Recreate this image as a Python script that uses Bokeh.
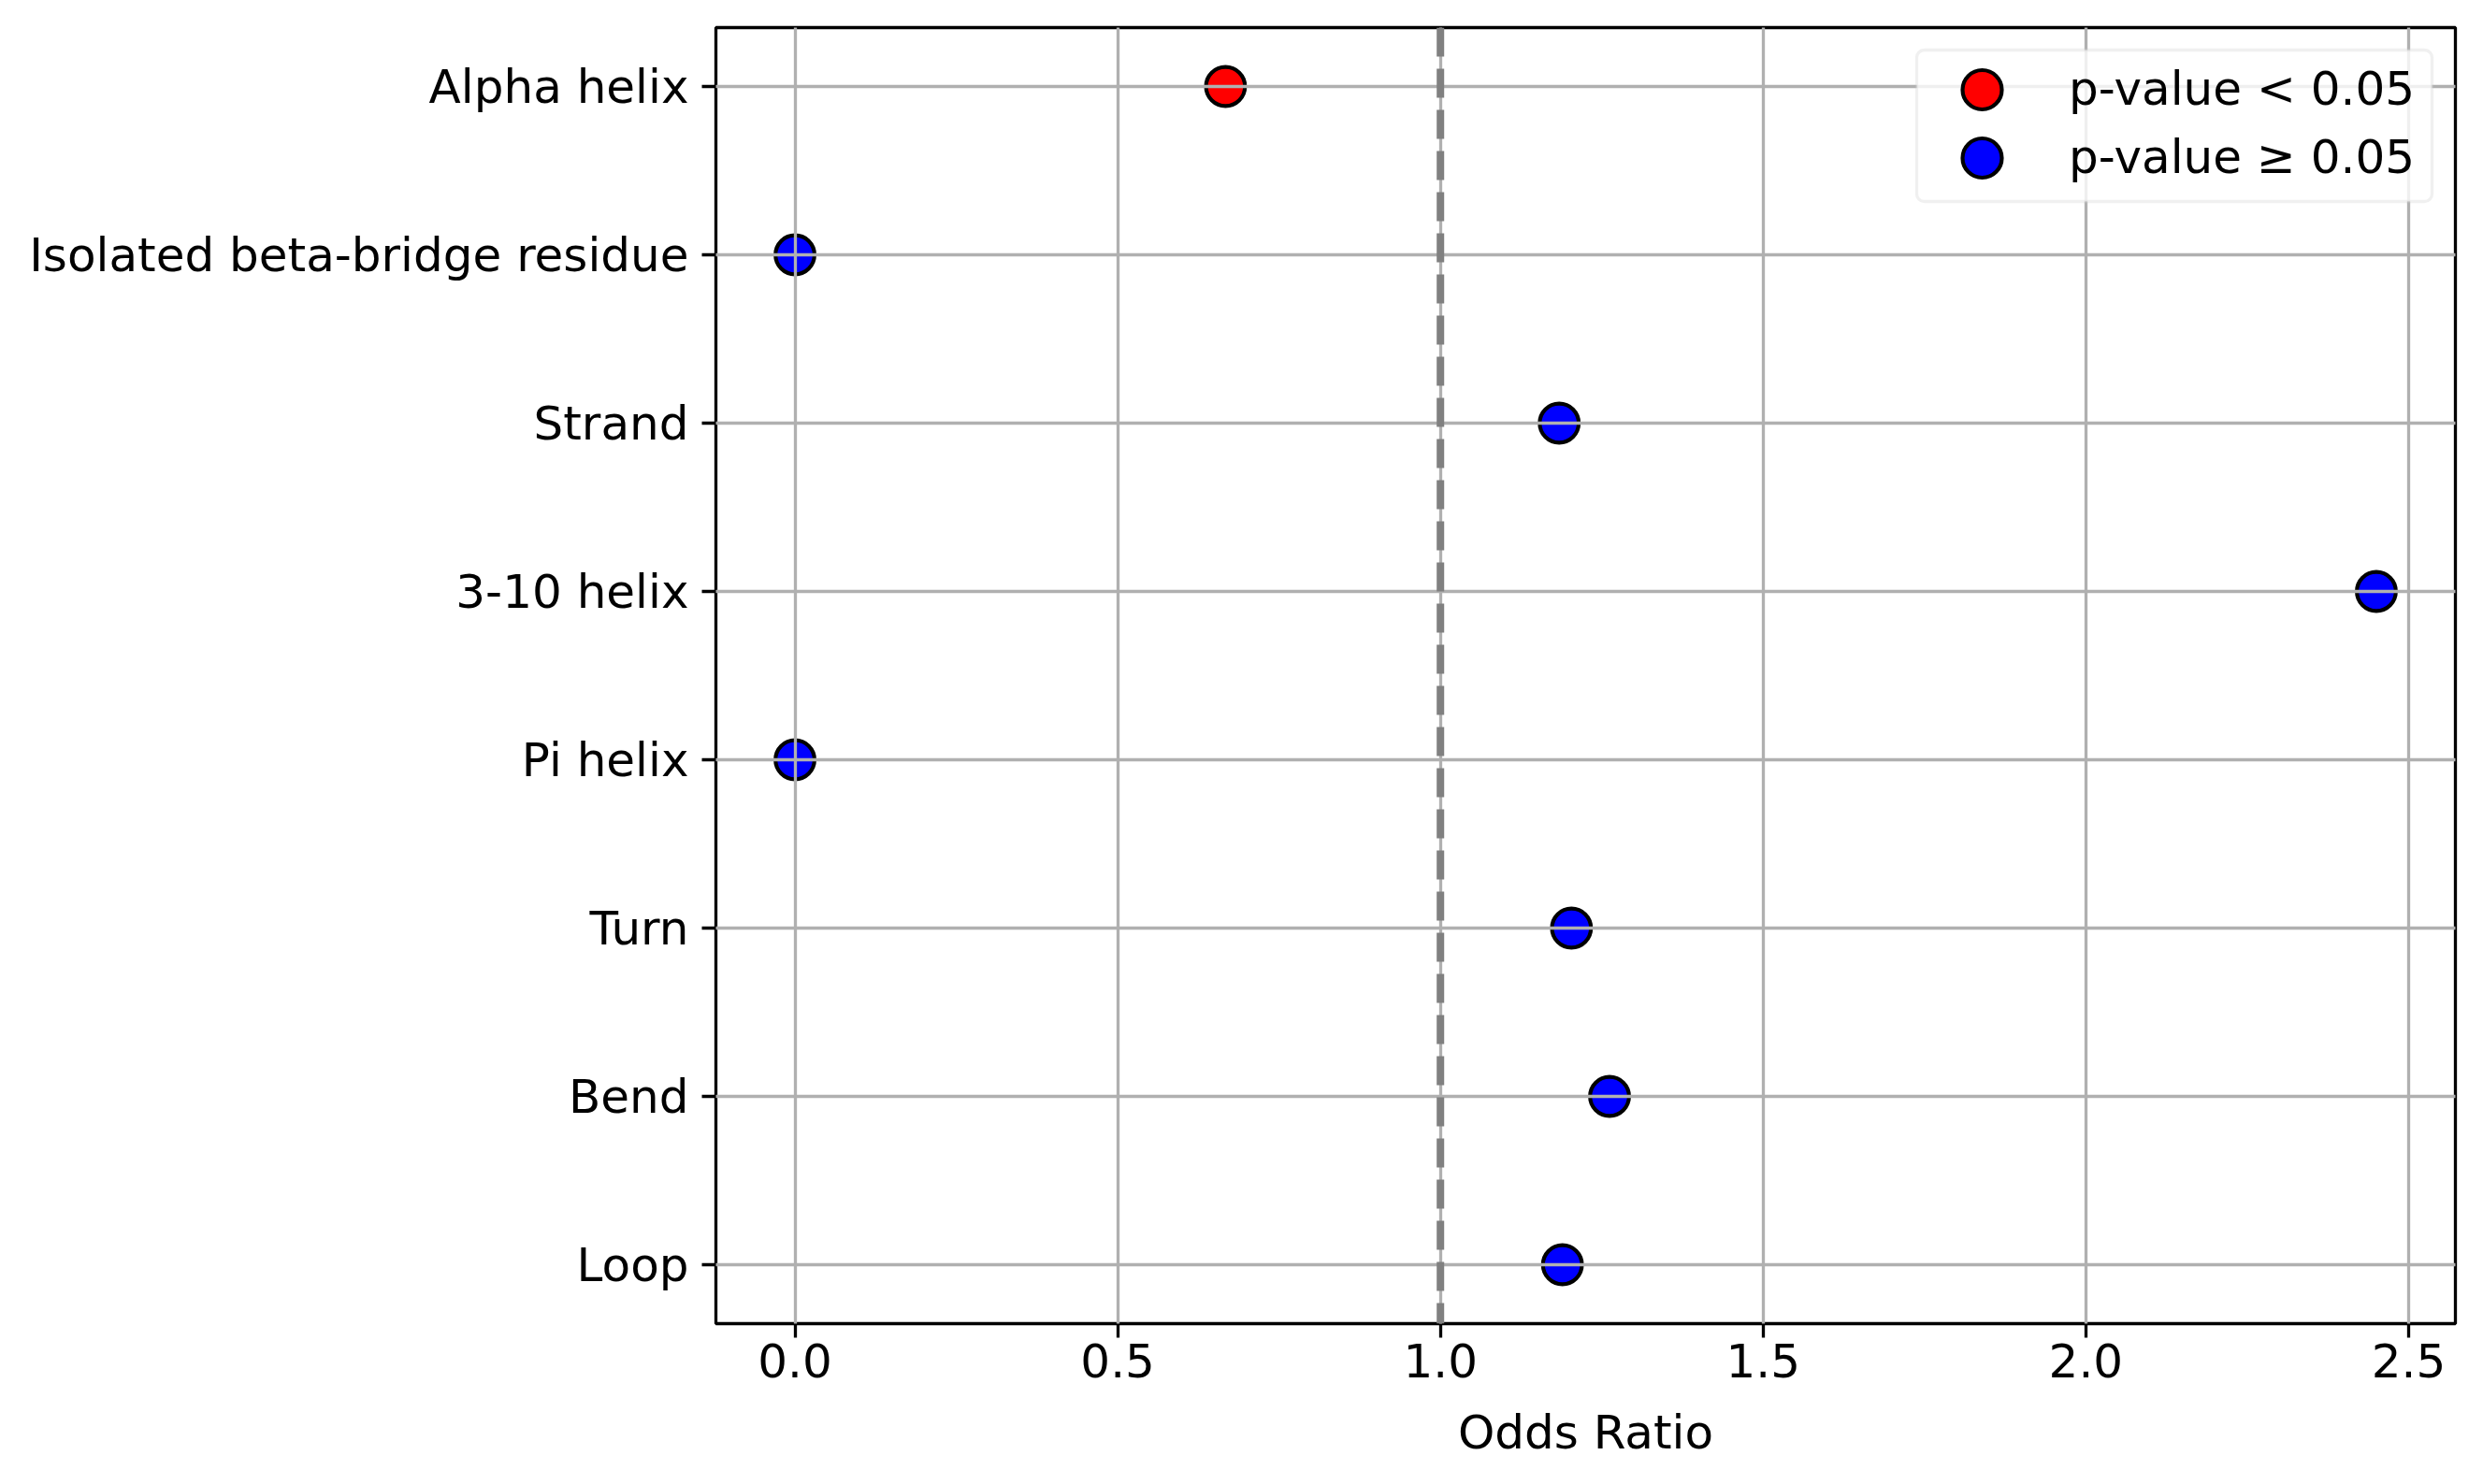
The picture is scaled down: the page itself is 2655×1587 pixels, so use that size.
from bokeh.plotting import figure
from bokeh.models import (ColumnDataSource, CDSView, BooleanFilter, Range1d, FactorRange,
                          Span, Legend, LegendItem, SingleIntervalTicker, PrintfTickFormatter,
                          BoxAnnotation)
from bokeh.embed import file_html
from bokeh.resources import INLINE

# ---- data ----
categories = ["Alpha helix", "Isolated beta-bridge residue", "Strand", "3-10 helix",
              "Pi helix", "Turn", "Bend", "Loop"]
odds_ratio = [0.667, 0.0, 1.184, 2.45, 0.0, 1.203, 1.262, 1.189]
significant = [True, False, False, False, False, False, False, False]
legend_labels = ["p-value < 0.05", "p-value \u2265 0.05"]
x_label = "Odds Ratio"
reference_line = 1.0

FONT = "DejaVu Sans"
W, H = 2639, 1571

source = ColumnDataSource(dict(cat=categories, odds=odds_ratio))

p = figure(width=W, height=H, output_backend="svg", toolbar_location=None,
           x_range=Range1d(-0.1225, 2.5725),
           y_range=FactorRange(factors=categories[::-1], range_padding=-0.0375,
                               range_padding_units="percent"),
           min_border_left=765, min_border_right=14, min_border_top=29, min_border_bottom=156)
p.background_fill_color = "white"
p.border_fill_color = "white"
p.outline_line_color = "black"
p.outline_line_width = 3.3

# grid (drawn above markers like matplotlib's default)
for g in (p.xgrid, p.ygrid):
    g.grid_line_color = "#b0b0b0"
    g.grid_line_width = 3.3
    g.level = "guide"

# axes
p.xaxis.ticker = SingleIntervalTicker(interval=0.5)
p.xaxis.formatter = PrintfTickFormatter(format="%.1f")
p.xaxis.axis_label = x_label
for ax in (p.xaxis, p.yaxis):
    ax.axis_line_color = None
    ax.major_tick_line_color = "black"
    ax.major_tick_line_width = 3.3
    ax.major_tick_out = 15
    ax.major_tick_in = 0
    ax.minor_tick_line_color = None
    ax.major_label_text_font = FONT
    ax.major_label_text_font_size = "50px"
    ax.major_label_text_color = "black"
    ax.axis_label_text_font = FONT
    ax.axis_label_text_font_size = "50px"
    ax.axis_label_text_font_style = "normal"
    ax.axis_label_text_color = "black"
p.xaxis.major_label_standoff = 6
p.yaxis.major_label_standoff = 14
p.xaxis.axis_label_standoff = 27

sig_view = CDSView(filter=BooleanFilter(significant))
non_view = CDSView(filter=BooleanFilter([not s for s in significant]))

r_sig = p.scatter(x="odds", y="cat", source=source, view=sig_view, size=41.7,
                  fill_color="#ff0000", line_color="black", line_width=4.17)
r_non = p.scatter(x="odds", y="cat", source=source, view=non_view, size=41.7,
                  fill_color="#0000ff", line_color="black", line_width=4.17)

vline = Span(location=reference_line, dimension="height", line_color="#808080",
             line_width=8, line_dash="31 13")
p.add_layout(vline)

# legend frame
frame_box = BoxAnnotation(left=2049, right=2600, top=53, bottom=215,
                          left_units="canvas", right_units="canvas",
                          top_units="canvas", bottom_units="canvas",
                          fill_color="white", fill_alpha=0.8,
                          line_color="#cccccc", line_width=3.3, border_radius=8,
                          editable=False)
p.add_layout(frame_box)

legend_style = dict(padding=0, spacing=0, glyph_width=140, glyph_height=105,
                    label_standoff=23, label_text_font=FONT, label_text_font_size="50px",
                    label_text_color="black", border_line_color=None,
                    background_fill_alpha=0.0, margin=0)
leg1 = Legend(items=[LegendItem(label=legend_labels[0], renderers=[r_sig])],
              location=(1284, 1267.5), **legend_style)
leg2 = Legend(items=[LegendItem(label=legend_labels[1], renderers=[r_non])],
              location=(1284, 1194.5), **legend_style)
p.add_layout(leg1)
p.add_layout(leg2)

open("out.html", "w").write(file_html(p, INLINE))
